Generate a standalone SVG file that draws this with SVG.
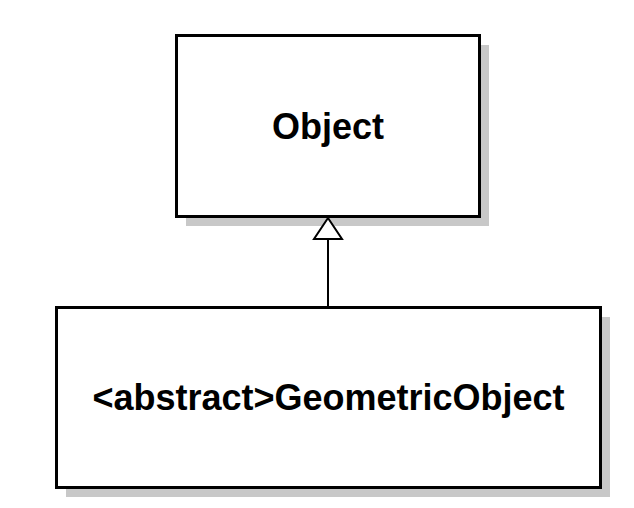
<svg xmlns="http://www.w3.org/2000/svg" width="634" height="508" viewBox="0 0 634 508">
<style>
.box{fill:#fff;stroke:#000;stroke-width:3}
.shadow{fill:#c8c8c8}
.lbl{font-family:"Liberation Sans",Arial,sans-serif;font-weight:bold;font-size:36px;text-anchor:middle;fill:#000}
.conn{stroke:#000;stroke-width:2;fill:none}
.head{fill:#fff;stroke:#000;stroke-width:2}
</style>
<rect width="634" height="508" fill="#fff"/>
<g id="object">
<rect class="shadow" x="186" y="45" width="303" height="181"/>
<rect class="box" x="176.5" y="35.5" width="303" height="181"/>
<text class="lbl" x="328" y="139">Object</text>
</g>
<g id="geometricObject">
<rect class="shadow" x="66" y="317" width="544" height="180"/>
<rect class="box" x="56.5" y="307.5" width="544" height="180"/>
<text class="lbl" x="328.5" y="410">&lt;abstract&gt;GeometricObject</text>
</g>
<g id="connectors">
<line class="conn" x1="328" y1="239" x2="328" y2="306"/>
<polygon class="head" points="328,218 314,239 342,239"/>
</g>
</svg>
